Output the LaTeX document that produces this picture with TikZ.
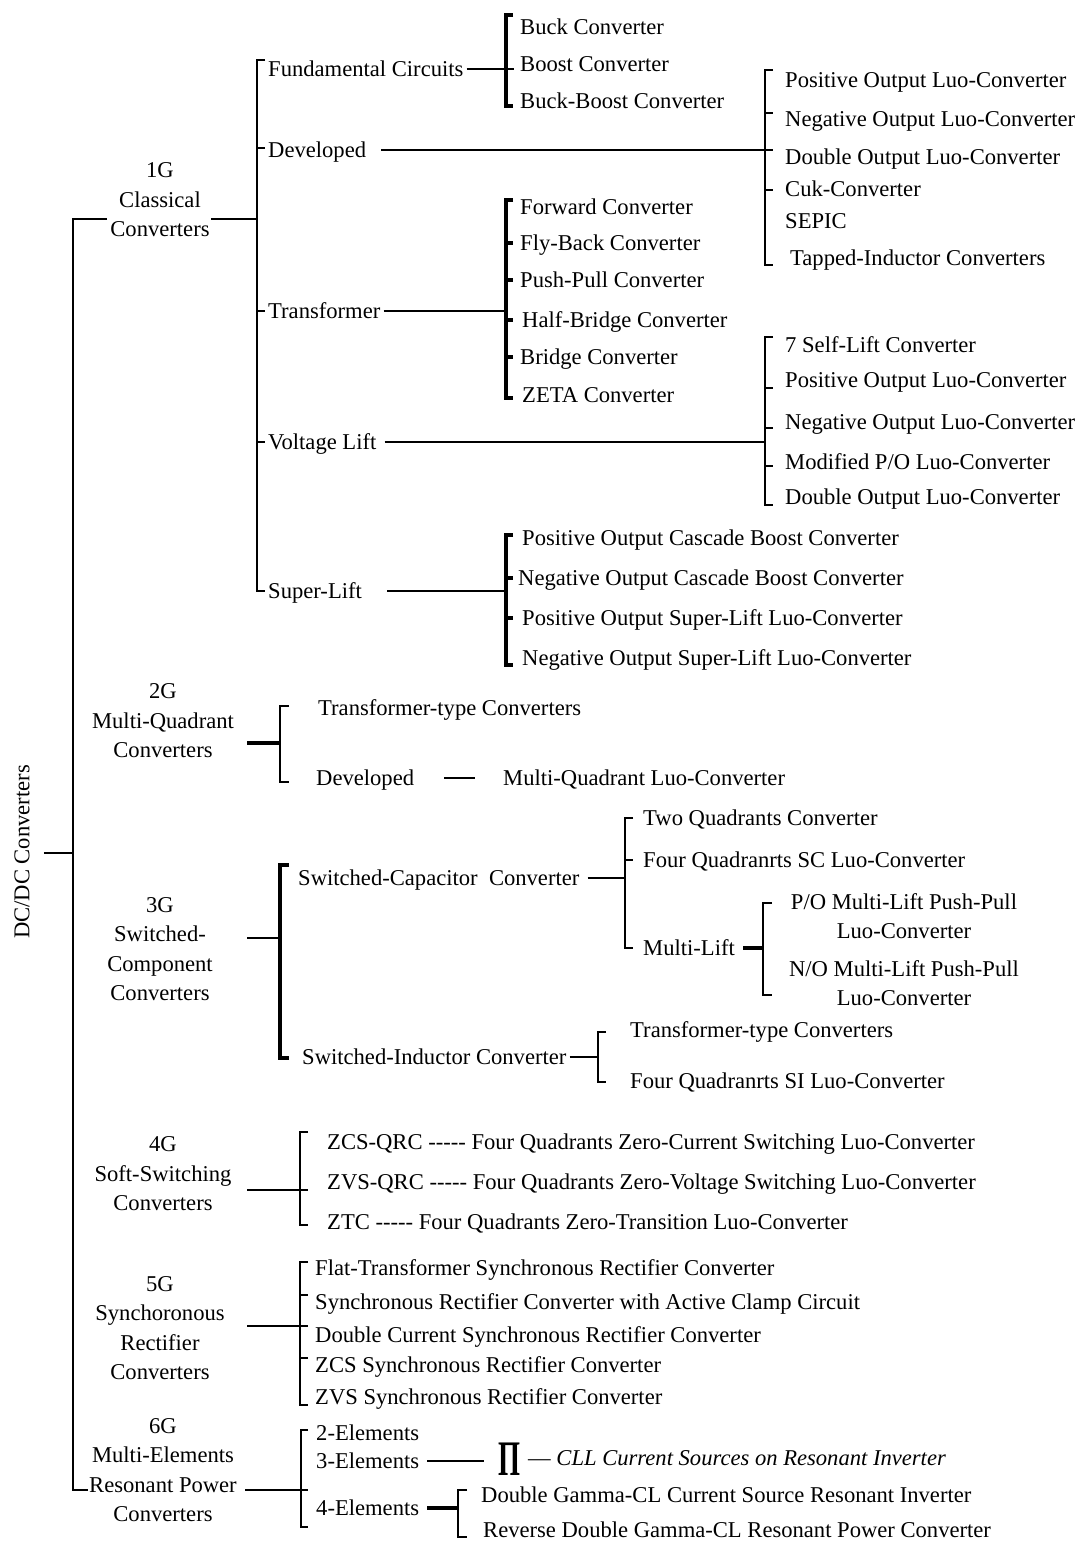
\documentclass[tikz,border=0pt]{standalone}
\usepackage{fontspec}
\setmainfont{Liberation Serif}
\begin{document}
\begin{tikzpicture}[x=1pt,y=-1pt,
  every node/.style={font=\fontsize{22.6}{29.5}\selectfont},
  lbl/.style={anchor=west, inner sep=0pt, text height=15pt, text depth=0pt},
  gen/.style={align=center, inner sep=0pt},
  ln/.style={line width=1.8pt},
  thk/.style={line width=3.2pt},
  brk/.style={line width=1.8pt},
]
\useasboundingbox[fill=white] (0,0) rectangle (1080,1542);

% ---------- root and main spine ----------
\node[rotate=90, inner sep=0pt] (root) at (22,852) {DC/DC Converters};
\coordinate (spTop) at (73,219);
\coordinate (spBot) at (73,1490);
\coordinate (spMid) at (73,853);
\draw[ln] (107,219) -- (spTop) -- (spBot) -- (88,1490);
\draw[ln] ([xshift=14pt]root.south |- spMid) -- (spMid);

% ---------- 1G ----------
\node[gen] (g1) at (160,200) {1G\\Classical\\Converters};
\draw[ln] (211,219) -- (257,219);
\draw[brk] (265,60) -- (257,60) -- (257,591) -- (265,591);
\foreach \y in {148,311,442} \draw[ln] (257,\y) -- (265,\y);
\node[lbl] (fc)   at (268,69)  {Fundamental Circuits};
\node[lbl] (dev1) at (268,150) {Developed};
\node[lbl] (tr)   at (268,311) {Transformer};
\node[lbl] (vl)   at (268,442) {Voltage Lift};
\node[lbl] (sl)   at (268,591) {Super-Lift};

% fundamental circuits
\draw[thk] (513,15) -- (506,15) -- (506,106) -- (513,106);
\draw[ln] ([xshift=3pt]fc.east) -- (514,69);
\node[lbl] (b1) at (520,27)  {Buck Converter};
\node[lbl] (b2) at (520,64)  {Boost Converter};
\node[lbl] (b3) at (520,101) {Buck-Boost Converter};

% developed
\draw[brk] (773,70) -- (765,70) -- (765,265) -- (773,265);
\foreach \y in {113,190} \draw[ln] (765,\y) -- (773,\y);
\draw[ln] ([xshift=15pt]dev1.east) -- (773,150);
\node[lbl] (d1) at (785,80)  {Positive Output Luo-Converter};
\node[lbl] (d2) at (785,119) {Negative Output Luo-Converter};
\node[lbl] (d3) at (785,157) {Double Output Luo-Converter};
\node[lbl] (d4) at (785,189) {Cuk-Converter};
\node[lbl] (d5) at (785,221) {SEPIC};
\node[lbl] (d6) at (790,258) {Tapped-Inductor Converters};

% transformer
\draw[thk] (513,200) -- (506,200) -- (506,398) -- (513,398);
\foreach \y in {243,280,320,357} \draw[thk] (506,\y) -- (513,\y);
\draw[ln] ([xshift=3pt]tr.east) -- (506,311);
\node[lbl] (t1) at (520,207) {Forward Converter};
\node[lbl] (t2) at (520,243) {Fly-Back Converter};
\node[lbl] (t3) at (520,280) {Push-Pull Converter};
\node[lbl] (t4) at (522,320) {Half-Bridge Converter};
\node[lbl] (t5) at (520,357) {Bridge Converter};
\node[lbl] (t6) at (522,395) {ZETA Converter};

% voltage lift
\draw[brk] (773,337) -- (765,337) -- (765,505) -- (773,505);
\foreach \y in {388,428,466} \draw[ln] (765,\y) -- (773,\y);
\draw[ln] ([xshift=8pt]vl.east) -- (765,442);
\node[lbl] (v1) at (785,345) {7 Self-Lift Converter};
\node[lbl] (v2) at (785,380) {Positive Output Luo-Converter};
\node[lbl] (v3) at (785,422) {Negative Output Luo-Converter};
\node[lbl] (v4) at (785,462) {Modified P/O Luo-Converter};
\node[lbl] (v5) at (785,497) {Double Output Luo-Converter};

% super-lift
\draw[thk] (513,535) -- (506,535) -- (506,665) -- (513,665);
\foreach \y in {578,618} \draw[thk] (506,\y) -- (513,\y);
\draw[ln] ([xshift=25pt]sl.east) -- (506,591);
\node[lbl] (s1) at (522,538) {Positive Output Cascade Boost Converter};
\node[lbl] (s2) at (518,578) {Negative Output Cascade Boost Converter};
\node[lbl] (s3) at (522,618) {Positive Output Super-Lift Luo-Converter};
\node[lbl] (s4) at (522,658) {Negative Output Super-Lift Luo-Converter};

% ---------- 2G ----------
\node[gen] (g2) at (163,721) {2G\\Multi-Quadrant\\Converters};
\draw[thk] (247,743) -- (280,743);
\draw[brk] (289,706) -- (280,706) -- (280,782) -- (289,782);
\node[lbl] (m1) at (318,708) {Transformer-type Converters};
\node[lbl] (m2) at (316,778) {Developed};
\node[lbl] (m3) at (503,778) {Multi-Quadrant Luo-Converter};
\draw[ln] ([xshift=30pt]m2.east) -- ([xshift=-28pt]m3.west);

% ---------- 3G ----------
\node[gen] (g3) at (160,949) {3G\\Switched-\\Component\\Converters};
\draw[ln] (247,938) -- (280,938);
\draw[thk] (289,865) -- (280,865) -- (280,1058) -- (289,1058);
\node[lbl] (sc) at (298,878) {Switched-Capacitor\ \ Converter};
\draw[ln] ([xshift=8pt]sc.east) -- (625,878);
\draw[brk] (633,818) -- (625,818) -- (625,948) -- (633,948);
\draw[ln] (625,860) -- (633,860);
\node[lbl] (q1) at (643,818) {Two Quadrants Converter};
\node[lbl] (q2) at (643,860) {Four Quadranrts SC Luo-Converter};
\node[lbl] (ml) at (643,948) {Multi-Lift};
\draw[thk] ([xshift=8pt]ml.east) -- (763,948);
\draw[brk] (772,903) -- (763,903) -- (763,995) -- (772,995);
\node[gen] (p1) at (904,916) {P/O Multi-Lift Push-Pull\\Luo-Converter};
\node[gen] (p2) at (904,983) {N/O Multi-Lift Push-Pull\\Luo-Converter};
\node[lbl] (si) at (302,1057) {Switched-Inductor Converter};
\draw[ln] ([xshift=3pt]si.east) -- (598,1057);
\draw[brk] (606,1032) -- (598,1032) -- (598,1082) -- (606,1082);
\node[lbl] (i1) at (630,1030) {Transformer-type Converters};
\node[lbl] (i2) at (630,1081) {Four Quadranrts SI Luo-Converter};

% ---------- 4G ----------
\node[gen] (g4) at (163,1174) {4G\\Soft-Switching\\Converters};
\draw[ln] (247,1190) -- (308,1190);
\draw[brk] (308,1132) -- (300,1132) -- (300,1225) -- (308,1225);
\node[lbl] (z1) at (327,1142) {ZCS-QRC -{}-{}-{}-{}- Four Quadrants Zero-Current Switching Luo-Converter};
\node[lbl] (z2) at (327,1182) {ZVS-QRC -{}-{}-{}-{}- Four Quadrants Zero-Voltage Switching Luo-Converter};
\node[lbl] (z3) at (327,1222) {ZTC -{}-{}-{}-{}- Four Quadrants Zero-Transition Luo-Converter};

% ---------- 5G ----------
\node[gen] (g5) at (160,1328) {5G\\Synchoronous\\Rectifier\\Converters};
\draw[ln] (247,1326) -- (308,1326);
\draw[brk] (308,1262) -- (300,1262) -- (300,1405) -- (308,1405);
\foreach \y in {1295,1358} \draw[ln] (300,\y) -- (308,\y);
\node[lbl] (r1) at (315,1268) {Flat-Transformer Synchronous Rectifier Converter};
\node[lbl] (r2) at (315,1302) {Synchronous Rectifier Converter with Active Clamp Circuit};
\node[lbl] (r3) at (315,1335) {Double Current Synchronous Rectifier Converter};
\node[lbl] (r4) at (315,1365) {ZCS Synchronous Rectifier Converter};
\node[lbl] (r5) at (315,1397) {ZVS Synchronous Rectifier Converter};

% ---------- 6G ----------
\node[gen] (g6) at (163,1470) {6G\\Multi-Elements\\Resonant Power\\Converters};
\draw[ln] (245,1490) -- (308,1490);
\draw[brk] (308,1430) -- (301,1430) -- (301,1527) -- (308,1527);
\node[lbl] (e2) at (316,1433) {2-Elements};
\node[lbl] (e3) at (316,1461) {3-Elements};
\node[lbl] (e4) at (316,1508) {4-Elements};
\node[inner sep=0pt] (pi) at (509,1459) {\scalebox{1.25}[2.2]{\textbf{Π}}};
\draw[ln] ([xshift=8pt]e3.east) -- ([xshift=-14pt]pi.west |- e3.east);
\node[lbl] (cll) at (528,1458) {--- \textit{CLL Current Sources on Resonant Inverter}};
\draw[thk] ([xshift=8pt]e4.east) -- (458,1508);
\draw[brk] (467,1490) -- (458,1490) -- (458,1537) -- (467,1537);
\node[lbl] (e41) at (481,1495) {Double Gamma-CL Current Source Resonant Inverter};
\node[lbl] (e42) at (483,1530) {Reverse Double Gamma-CL Resonant Power Converter};
\end{tikzpicture}
\end{document}
